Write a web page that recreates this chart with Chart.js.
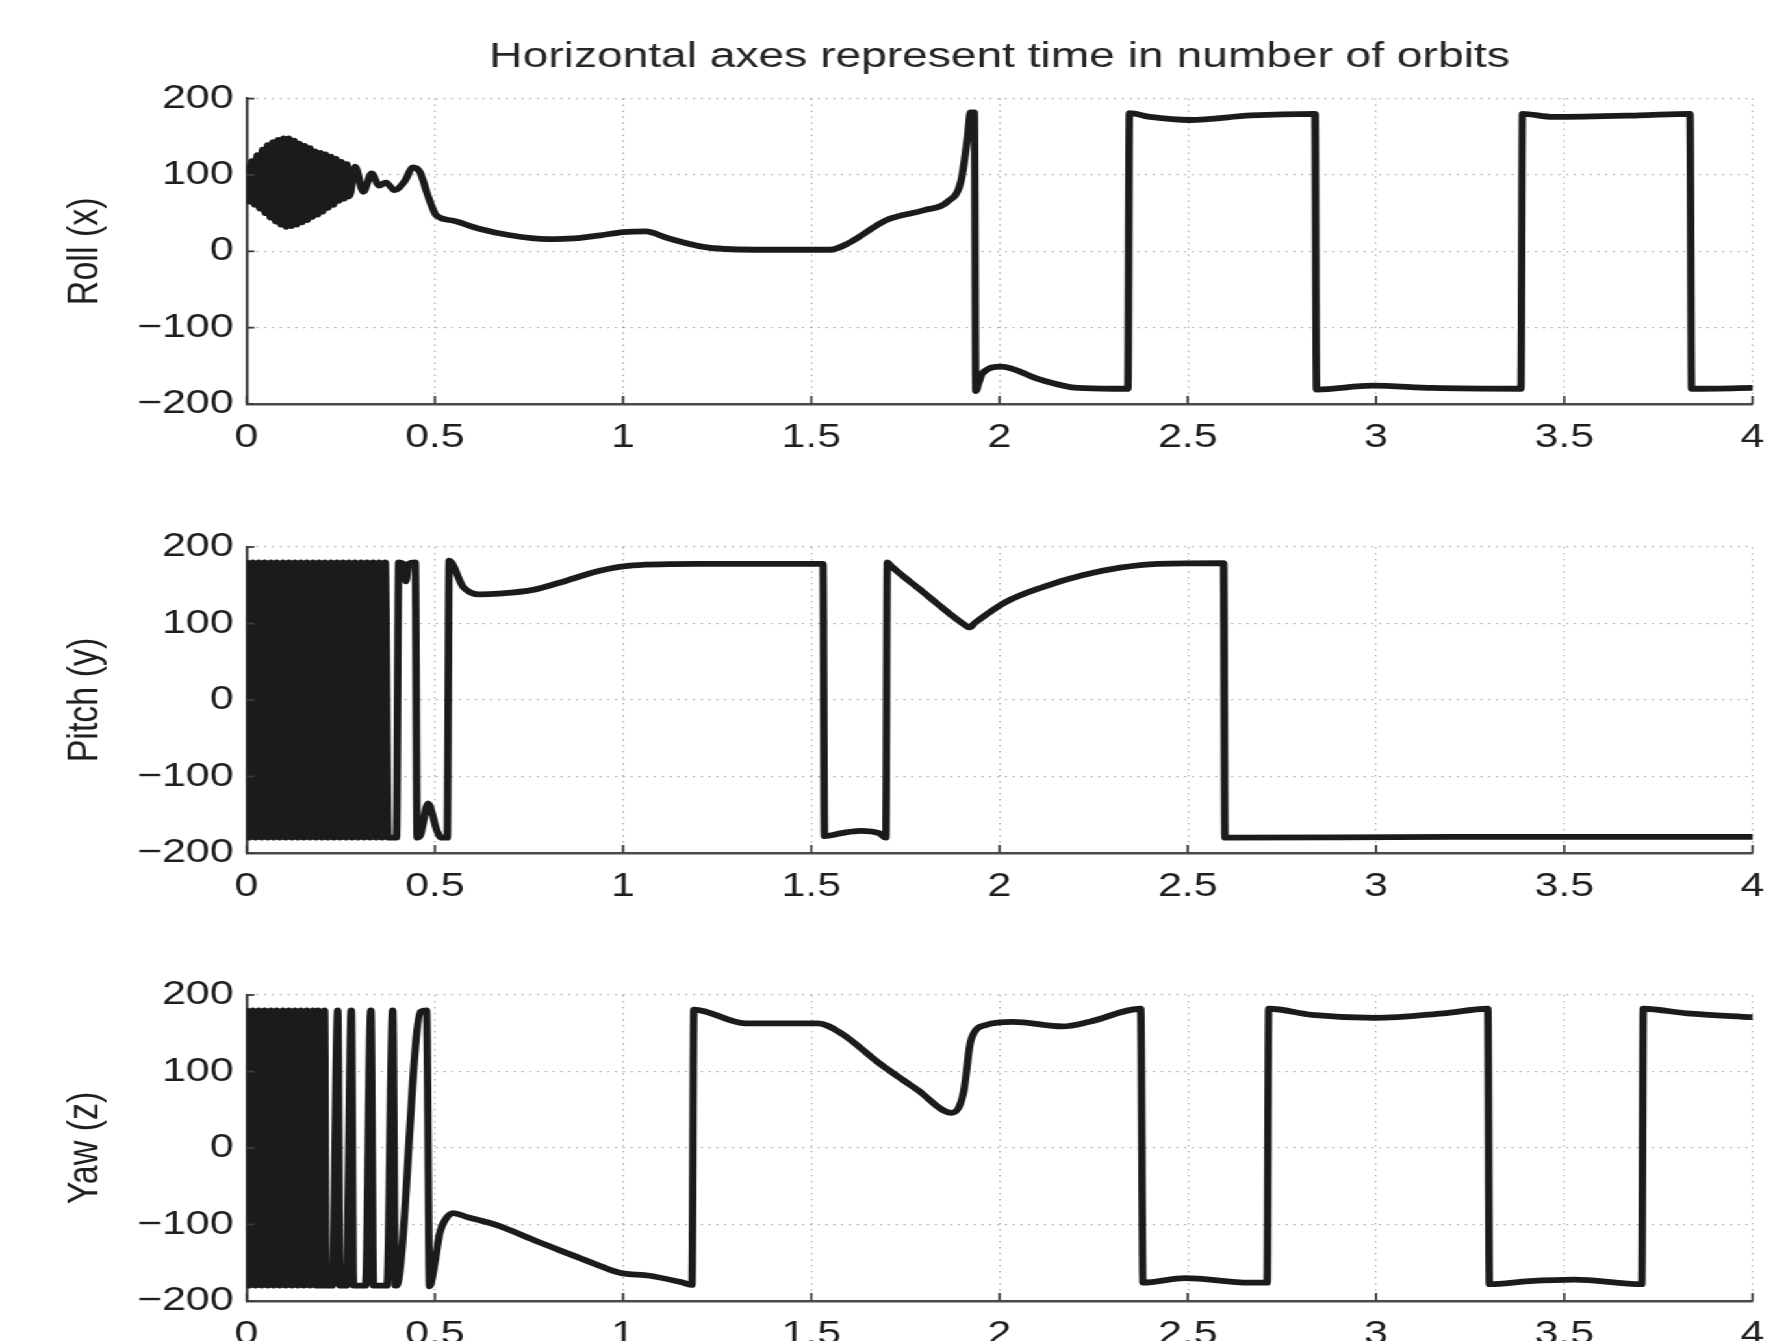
<!DOCTYPE html>
<html>
<head>
<meta charset="utf-8">
<title>Roll / Pitch / Yaw</title>
<script src="https://cdn.jsdelivr.net/npm/chart.js@4.4.1/dist/chart.umd.min.js"></script>
<style>
  html, body { margin: 0; padding: 0; background: #fff; overflow: hidden; }
  /* the source figure is stretched sideways, so the whole stage is too */
  #stage { position: absolute; left: 0; top: 0; width: 1376px; height: 1341px;
           transform: scaleX(1.2994); transform-origin: 0 0; }
  #stage canvas { position: absolute; left: 0; }
</style>
</head>
<body>
<div id="stage">
  <canvas id="rollChart" width="1376" height="464" style="top:0px;width:1376px;height:464px"></canvas>
  <canvas id="pitchChart" width="1376" height="406" style="top:507px;width:1376px;height:406px"></canvas>
  <canvas id="yawChart" width="1376" height="406" style="top:955px;width:1376px;height:406px"></canvas>
</div>
<script>
// time axis (orbits) and angle axis (deg)
const xTicks = [0, 0.5, 1, 1.5, 2, 2.5, 3, 3.5, 4];
const yTicks = [-200, -100, 0, 100, 200];

// Roll (x)
const rollT = [
  0, 0.007, 0.014, 0.021, 0.028, 0.035, 0.042, 0.049, 0.056, 0.063,
  0.070, 0.077, 0.084, 0.091, 0.098, 0.105, 0.112, 0.119, 0.126, 0.133,
  0.140, 0.147, 0.154, 0.161, 0.168, 0.175, 0.182, 0.189, 0.196, 0.203,
  0.210, 0.217, 0.224, 0.231, 0.238, 0.245, 0.252, 0.259, 0.266, 0.273,
  0.288, 0.31, 0.332, 0.352, 0.37, 0.393, 0.42, 0.442, 0.46, 0.48,
  0.491, 0.504, 0.55, 0.615, 0.70, 0.80, 0.87, 0.94, 1.0, 1.06,
  1.12, 1.24, 1.40, 1.55, 1.60, 1.70, 1.80, 1.862, 1.898, 1.915,
  1.923, 1.933, 1.937, 1.945, 1.954, 2.005, 2.107, 2.208, 2.30, 2.341,
  2.345, 2.40, 2.506, 2.668, 2.838, 2.842, 2.99, 3.15, 3.385, 3.389,
  3.47, 3.70, 3.834, 3.838, 4.0
];
const rollDeg = [
  111, 65, 118, 61, 126, 56, 133, 50, 139, 44,
  143, 39, 146, 35, 148, 32, 148, 33, 145, 35,
  141, 38, 138, 41, 135, 45, 131, 48, 129, 52,
  127, 57, 124, 61, 121, 66, 117, 69, 114, 72,
  111, 78, 102, 86, 90, 80, 92, 110, 104, 75,
  60, 47, 40, 30, 21, 16, 17, 21, 25, 26,
  17, 4, 2, 2, 11, 41, 54, 65, 93, 150,
  182, 182, -183, -172, -160, -151, -168, -179, -180, -180,
  181, 176, 172, 178, 180, -181, -176, -179, -180, 180,
  176, 178, 180, -180, -179
];

// Pitch (y)
const pitchT = [
  0, 0.008, 0.016, 0.024, 0.032, 0.040, 0.048, 0.056, 0.064, 0.072,
  0.080, 0.088, 0.096, 0.104, 0.112, 0.120, 0.128, 0.136, 0.144, 0.152,
  0.160, 0.168, 0.176, 0.184, 0.192, 0.200, 0.208, 0.216, 0.224, 0.232,
  0.240, 0.248, 0.256, 0.264, 0.272, 0.280, 0.288, 0.296, 0.304, 0.312,
  0.320, 0.328, 0.336, 0.344, 0.352, 0.360, 0.368, 0.376,
  0.398, 0.404, 0.416, 0.423, 0.430, 0.448, 0.453, 0.462, 0.482,
  0.505, 0.517, 0.533, 0.538, 0.575, 0.62, 0.67, 0.761, 0.849, 0.938,
  1.026, 1.2, 1.531, 1.535, 1.58, 1.63, 1.68, 1.698, 1.702, 1.71,
  1.80, 1.88, 1.905, 1.92, 1.935, 2.016, 2.117, 2.22, 2.32, 2.42,
  2.595, 2.599, 3.2, 4.0
];
const pitchDeg = [
  180, -180, 180, -180, 180, -180, 180, -180, 180, -180,
  180, -180, 180, -180, 180, -180, 180, -180, 180, -180,
  180, -180, 180, -180, 180, -180, 180, -180, 180, -180,
  180, -180, 180, -180, 180, -180, 180, -180, 180, -180,
  180, -180, 180, -180, 180, -180, 180, -180,
  -180, 180, 178, 155, 178, 180, -180, -176, -135,
  -170, -180, -180, 182, 148, 138, 139, 144, 156, 169,
  176, 178, 178, -178, -174, -171, -174, -180, 180, 176,
  140, 108, 99, 95, 101, 128, 148, 163, 173, 178,
  179, -180, -179, -179
];

// Yaw (z)
const yawT = [
  0, 0.008, 0.016, 0.024, 0.032, 0.040, 0.048, 0.056, 0.064, 0.072,
  0.080, 0.088, 0.096, 0.104, 0.112, 0.120, 0.128, 0.136, 0.144, 0.152,
  0.160, 0.168, 0.176, 0.184,
  0.190, 0.193, 0.203, 0.207, 0.211, 0.228, 0.242, 0.248, 0.265, 0.278,
  0.284, 0.316, 0.330, 0.337, 0.373, 0.388, 0.395, 0.398, 0.462, 0.478,
  0.486, 0.50, 0.513, 0.53, 0.549, 0.584, 0.672, 0.761, 0.849, 0.938,
  0.991, 1.071, 1.159, 1.183, 1.188, 1.325, 1.518, 1.579, 1.68, 1.782,
  1.873, 1.904, 1.924, 1.965, 2.036, 2.168, 2.239, 2.375, 2.381, 2.493,
  2.664, 2.711, 2.715, 2.83, 2.998, 3.178, 3.297, 3.301, 3.407, 3.527,
  3.706, 3.71, 3.826, 4.0
];
const yawDeg = [
  180, -180, 180, -180, 180, -180, 180, -180, 180, -180,
  180, -180, 180, -180, 180, -180, 180, -180, 180, -180,
  180, -180, 180, -180,
  180, -180, -180, 180, -180, -180, 180, -180, -180, 180,
  -180, -180, 180, -180, -180, 180, -180, -180, 178, 180,
  -181, -150, -111, -92, -85, -90, -102, -120, -137, -154,
  -163, -167, -176, -179, 181, 163, 163, 150, 111, 76,
  46, 72, 141, 161, 165, 159, 165, 182, -176, -170,
  -176, -176, 182, 174, 170, 176, 182, -178, -174, -172,
  -178, 182, 176, 171
];

const FONT = "'Liberation Sans', Arial, Helvetica, sans-serif";

// MATLAB style ticks pointing into the plot
const inwardTicks = {
  id: 'inwardTicks',
  afterDraw(chart) {
    const {ctx, chartArea, scales: {x, y}} = chart;
    ctx.save();
    ctx.strokeStyle = '#3c3c3c';
    ctx.lineWidth = 1.8;
    x.ticks.forEach(t => {
      const px = x.getPixelForValue(t.value);
      ctx.beginPath();
      ctx.moveTo(px, chartArea.bottom);
      ctx.lineTo(px, chartArea.bottom - 8);
      ctx.stroke();
    });
    y.ticks.forEach(t => {
      const py = y.getPixelForValue(t.value);
      ctx.beginPath();
      ctx.moveTo(chartArea.left, py);
      ctx.lineTo(chartArea.left + 6, py);
      ctx.stroke();
    });
    ctx.restore();
  }
};

function makeChart(id, label, times, degs, padTop, title) {
  const ctx = document.getElementById(id).getContext('2d');
  return new Chart(ctx, {
    type: 'line',
    data: {
      datasets: [{
        data: times.map((t, i) => ({x: t, y: degs[i]})),
        borderColor: '#1b1b1b',
        borderWidth: 5.8,
        pointRadius: 0,
        borderJoinStyle: 'round',
        borderCapStyle: 'round',
        cubicInterpolationMode: 'monotone',
        fill: false
      }]
    },
    options: {
      responsive: false,
      animation: false,
      events: [],
      devicePixelRatio: 1,
      layout: {padding: {top: padTop, right: 27.3, bottom: 0, left: 0}},
      plugins: {
        legend: {display: false},
        tooltip: {enabled: false},
        title: {
          display: !!title,
          text: title || '',
          fullSize: false,
          color: '#262626',
          font: {family: FONT, size: 35.5, weight: 'normal'},
          padding: {top: 36, bottom: 20}
        }
      },
      scales: {
        x: {
          type: 'linear',
          min: 0,
          max: 4,
          afterBuildTicks: s => { s.ticks = xTicks.map(v => ({value: v})); },
          afterFit: s => { s.height = 60; },
          grid: {color: 'rgba(0,0,0,0.32)', lineWidth: 1.2, drawTicks: false},
          border: {display: true, color: '#4a4a4a', width: 2.4, dash: [1.5, 4.5]},
          ticks: {
            color: '#1e1e1e',
            padding: 14,
            maxRotation: 0,
            font: {family: FONT, size: 33},
            callback: v => String(v)
          }
        },
        y: {
          min: -200,
          max: 200,
          afterBuildTicks: s => { s.ticks = yTicks.map(v => ({value: v})); },
          afterFit: s => { s.width = 189.8; },
          grid: {color: 'rgba(0,0,0,0.32)', lineWidth: 1.2, drawTicks: false},
          border: {display: true, color: '#4a4a4a', width: 2.4, dash: [1.5, 4.5]},
          ticks: {
            color: '#1e1e1e',
            padding: 10,
            font: {family: FONT, size: 33},
            callback: v => String(v).replace('-', '\u2212')
          },
          title: {
            display: true,
            text: label,
            color: '#1e1e1e',
            font: {family: FONT, size: 34},
            padding: {top: 45, bottom: 0}
          }
        }
      }
    },
    plugins: [inwardTicks]
  });
}

makeChart('rollChart', 'Roll (x)', rollT, rollDeg, 0, 'Horizontal axes represent time in number of orbits');
makeChart('pitchChart', 'Pitch (y)', pitchT, pitchDeg, 40);
makeChart('yawChart', 'Yaw (z)', yawT, yawDeg, 40);
</script>
</body>
</html>
